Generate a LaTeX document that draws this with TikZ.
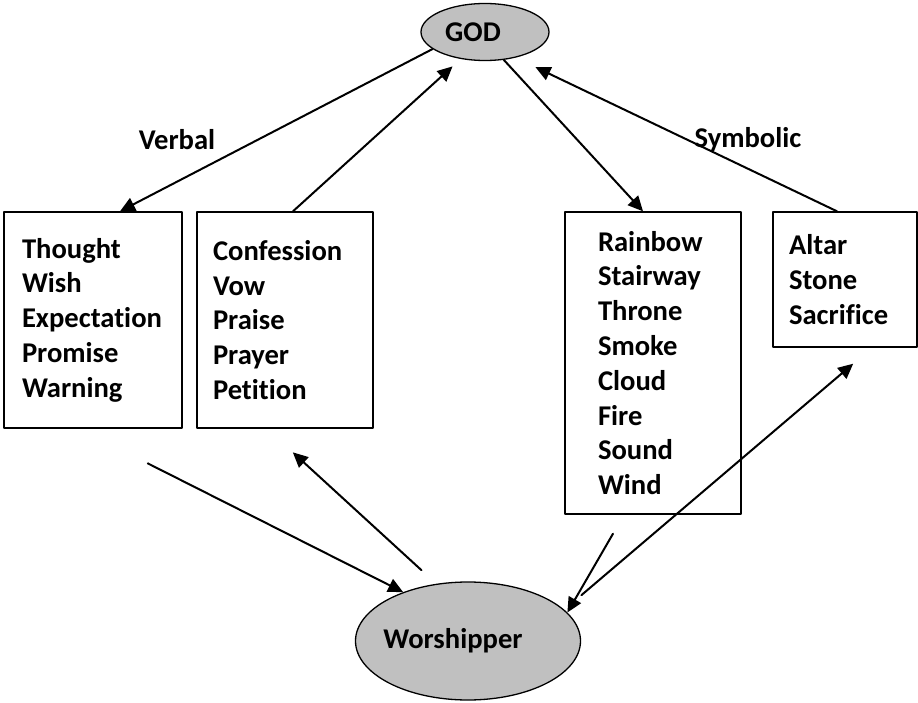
\documentclass[tikz,border=0pt]{standalone}
\usepackage{fontspec}
\setmainfont{Carlito}[Ligatures=NoCommon]
\usetikzlibrary{arrows.meta,shapes.geometric}
\definecolor{shapegray}{RGB}{192,192,192}
\newcommand{\lefttext}[2]{\makebox[0pt]{#2\hspace*{#1}}}

\begin{document}
\begin{tikzpicture}[x=1pt,y=-1pt, line cap=round, line join=round,
  every node/.style={font=\fontsize{28.6}{34.8}\selectfont\bfseries},
  oval/.style={ellipse, draw, line width=1.3pt, fill=shapegray, inner sep=0pt},
  listbox/.style={rectangle, draw, line width=1.4pt, align=left, inner ysep=0pt},
  link/.style={line width=2pt, -{Triangle[length=15pt,width=14pt]}}]
  \useasboundingbox (0,0) rectangle (918,703);

  % the two ends
  \node[oval, minimum width=128pt, minimum height=57pt] (god) at (485,32) {\lefttext{24pt}{GOD}};
  \node[oval, minimum width=225pt, minimum height=118pt] (worshipper) at (468,641) {\lefttext{30pt}{Worshipper}};

  % the four lists
  \node[listbox, text width=142pt, inner xsep=18pt, minimum height=216pt] (thought) at (93,320)
    {Thought\\Wish\\Expectation\\Promise\\Warning};
  \node[listbox, text width=144pt, inner xsep=16pt, minimum height=216pt] (confession) at (285,320)
    {Confession\\Vow\\Praise\\Prayer\\Petition};
  \node[listbox, text width=110pt, inner xsep=33pt, minimum height=302pt] (rainbow) at (653,363)
    {Rainbow\\Stairway\\Throne\\Smoke\\Cloud\\Fire\\Sound\\Wind};
  \node[listbox, text width=112pt, inner xsep=16pt, minimum height=135pt] (altar) at (845,279.5)
    {Altar\\Stone\\Sacrifice};

  \node (verbal) at (177,140) {Verbal};
  \node (symbolic) at (748,140) {Symbolic};

  % up and down
  \draw[link] (god.198) -- ([xshift=27pt]thought.north);
  \draw[link, shorten >=11pt] ([xshift=8pt]confession.north) -- (god.228);
  \draw[link] (god.-56) -- ([xshift=-10pt]rainbow.north);
  \draw[link, shorten >=22pt] ([xshift=-8pt]altar.north) -- (god.320);

  \draw[link, shorten <=77pt] ([xshift=-14pt]thought.south) -- (worshipper.143);
  \draw[link, shorten <=20pt, shorten >=35pt] (worshipper.119) -- ([xshift=-18pt]confession.south);
  \draw[link, shorten <=22pt] ([xshift=-29pt]rainbow.south) -- (worshipper.16);
  \draw[link, shorten <=22.5pt, shorten >=24.7pt] (worshipper.18) -- ([xshift=27pt]altar.south);
\end{tikzpicture}
\end{document}
